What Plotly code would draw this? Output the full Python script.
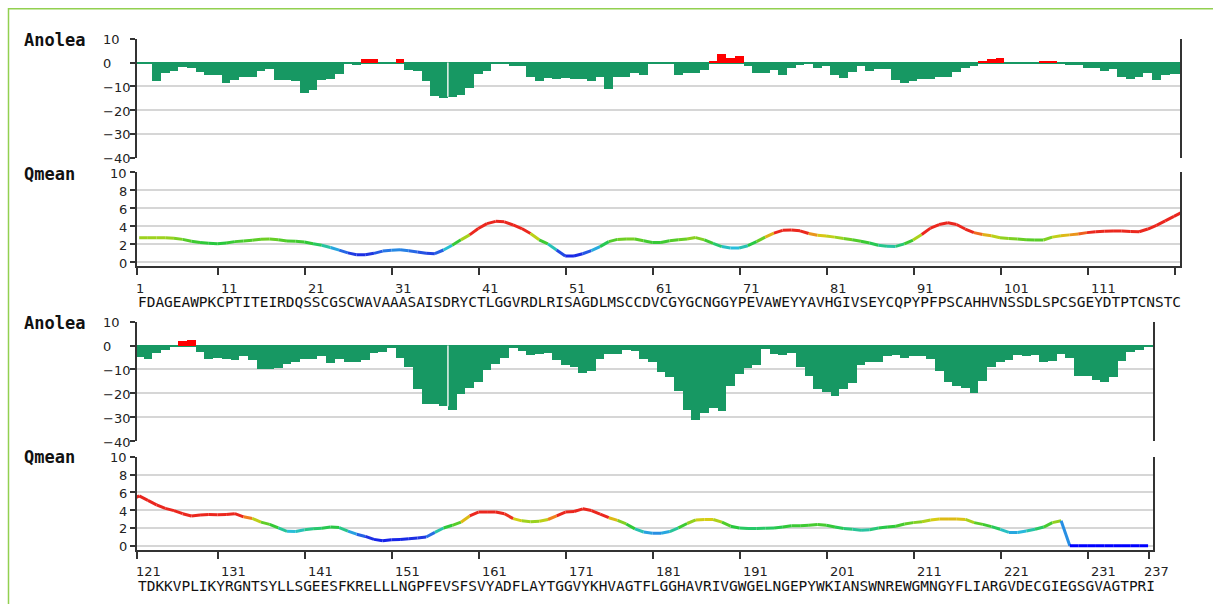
import plotly.graph_objects as go

W, H = 1213, 604

# ---------------------------------------------------------------- data
SEQUENCE = (
    "FDAGEAWPKCPTITEIRDQSSCGSCWAVAAASAISDRYCTLGGVRDLRISAGDLMSCCDVCGYGCNGGYPEVAWEYYAVHGIVSEYCQPYPFPSCAHHVNSSDLSPCSGEYDTPTCNSTC"
    "TDKKVPLIKYRGNTSYLLSGEESFKRELLLNGPFEVSFSVYADFLAYTGGVYKHVAGTFLGGHAVRIVGWGELNGEPYWKIANSWNREWGMNGYFLIARGVDECGIEGSGVAGTPRI"
)
RESIDUES = list(range(1, len(SEQUENCE) + 1))

ANOLEA = [
    0.0, 0.0, -7.7, -4.1, -3.5, -1.8, -2.2, -3.9, -5.3, -5.3,
    -8.4, -7.1, -6.0, -6.0, -3.5, -2.4, -7.3, -7.3, -7.8, -12.7,
    -11.6, -7.3, -6.6, -4.5, -0.4, -1.0, 1.4, 1.4, 0.0, 0.0,
    1.4, -2.9, -3.6, -7.8, -14.0, -14.7, -14.4, -13.4, -10.5, -4.5,
    -3.4, -0.2, -0.7, -1.5, -1.5, -5.9, -7.7, -6.3, -6.6, -6.4,
    -6.9, -6.9, -7.7, -6.0, -10.9, -6.0, -6.0, -4.2, -5.3, -0.1,
    -0.7, -0.7, -5.3, -4.3, -4.3, -2.9, 0.8, 3.5, 2.1, 2.8,
    -1.5, -4.1, -4.1, -2.9, -5.3, -2.1, -0.8, -0.4, -2.1, -1.5,
    -5.3, -6.4, -3.9, -1.5, -3.4, -2.8, -2.8, -7.4, -8.3, -7.7,
    -6.6, -6.6, -5.9, -5.9, -3.9, -2.2, -1.3, 0.8, 1.5, 2.1,
    0.0, 0.0, 0.0, 0.0, 0.8, 0.8, 0.0, -0.8, -0.8, -2.1,
    -2.1, -3.4, -2.8, -5.9, -6.6, -5.9, -4.1, -7.1, -5.3, -4.5,
    -4.6, -5.3, -2.9, -1.8, -0.4, 1.9, 2.5, -2.4, -5.3, -5.0,
    -5.3, -6.0, -4.2, -6.0, -9.9, -9.9, -9.4, -7.8, -6.7, -5.6,
    -5.6, -4.2, -7.1, -5.6, -6.7, -6.7, -6.0, -2.9, -2.4, -1.1,
    -5.0, -9.0, -18.1, -24.3, -24.3, -25.4, -26.7, -20.1, -17.6, -15.3,
    -10.1, -7.4, -4.9, -1.0, -2.1, -3.8, -3.2, -2.8, -6.0, -7.9,
    -8.8, -11.4, -10.7, -5.6, -3.2, -3.2, -1.7, -2.1, -5.3, -6.9,
    -10.8, -13.2, -18.8, -26.8, -31.0, -28.1, -26.1, -27.1, -16.9, -11.8,
    -9.3, -7.9, -1.4, -3.2, -3.8, -2.8, -8.9, -12.5, -18.1, -19.2,
    -21.1, -18.1, -15.6, -7.9, -6.9, -6.9, -4.2, -3.9, -5.1, -4.4,
    -4.4, -5.6, -10.4, -15.3, -16.7, -17.8, -19.9, -14.9, -9.0, -6.9,
    -5.8, -3.9, -4.2, -3.9, -6.9, -6.3, -3.2, -5.1, -12.5, -12.5,
    -14.3, -15.3, -12.9, -6.3, -2.6, -1.8, -0.3,
]

QMEAN = [
    2.74, 2.74, 2.74, 2.74, 2.68, 2.55, 2.35, 2.2, 2.12, 2.07,
    2.15, 2.3, 2.38, 2.45, 2.57, 2.58, 2.5, 2.37, 2.33, 2.25,
    2.07, 1.9, 1.65, 1.35, 1.05, 0.85, 0.85, 1.0, 1.25, 1.35,
    1.4, 1.28, 1.15, 1.02, 0.96, 1.37, 1.9, 2.5, 3.05, 3.75,
    4.3, 4.55, 4.5, 4.15, 3.75, 3.2, 2.5, 2.05, 1.37, 0.7,
    0.7, 0.95, 1.3, 1.75, 2.3, 2.55, 2.6, 2.6, 2.4, 2.2,
    2.2, 2.4, 2.5, 2.6, 2.75, 2.5, 2.1, 1.75, 1.6, 1.6,
    1.85, 2.3, 2.8, 3.25, 3.55, 3.6, 3.5, 3.2, 3.0, 2.93,
    2.8, 2.65, 2.5, 2.35, 2.15, 1.9, 1.78, 1.77, 2.05, 2.48,
    3.1, 3.8, 4.2, 4.4, 4.2, 3.7, 3.3, 3.1, 2.95, 2.74,
    2.65, 2.6, 2.5, 2.48, 2.48, 2.8, 2.95, 3.05, 3.15, 3.3,
    3.4, 3.45, 3.48, 3.48, 3.42, 3.4, 3.7, 4.1, 4.6, 5.1,
    5.6, 5.1, 4.6, 4.2, 3.95, 3.6, 3.35, 3.45, 3.5, 3.48,
    3.5, 3.6, 3.25, 3.07, 2.65, 2.4, 2.0, 1.62, 1.6, 1.8,
    1.9, 1.97, 2.1, 2.05, 1.65, 1.3, 1.05, 0.72, 0.56, 0.68,
    0.7, 0.8, 0.88, 0.98, 1.5, 2.0, 2.3, 2.65, 3.35, 3.78,
    3.8, 3.8, 3.6, 3.05, 2.8, 2.7, 2.75, 2.95, 3.35, 3.78,
    3.85, 4.15, 3.95, 3.55, 3.15, 2.85, 2.45, 1.9, 1.55, 1.4,
    1.4, 1.6, 2.0, 2.5, 2.9, 2.95, 2.95, 2.65, 2.2, 2.0,
    1.95, 1.95, 1.97, 2.0, 2.1, 2.25, 2.25, 2.3, 2.4, 2.3,
    2.1, 1.95, 1.85, 1.75, 1.8, 2.0, 2.1, 2.2, 2.45, 2.6,
    2.7, 2.9, 3.0, 3.0, 3.0, 2.96, 2.6, 2.4, 2.15, 1.85,
    1.5, 1.5, 1.65, 1.85, 2.1, 2.6, 2.8, 0.0, 0.0, 0.0,
    0.0, 0.0, 0.0, 0.0, 0.0, 0.0, 0.0,
]

ROW_TICKS = [
    [1, 11, 21, 31, 41, 51, 61, 71, 81, 91, 101, 111],
    [121, 131, 141, 151, 161, 171, 181, 191, 201, 211, 221, 231, 237],
]
ANOLEA_TICKS = [10, 0, -10, -20, -30, -40]
QMEAN_TICKS = [10, 8, 6, 4, 2, 0]

# residue boundaries where the bar strip shows a thin break
BAR_BREAKS = [36, 156]

# ---------------------------------------------------------------- style
GREEN = "#179863"
RED = "#ff0000"
GRID = "#d6d6d6"
AXIS = "#333333"
NUM_FONT = dict(family="DejaVu Sans", size=13, color="#222222")
SEQ_FONT = dict(family="DejaVu Sans Mono", size=14.44, color="#111111")
TITLE_FONT = dict(family="DejaVu Sans Mono", size=17, color="#111111")
TICK_SHIFT = -0.9

# Qmean colour ramp: value -> rgb
QMEAN_RAMP = [
    (0.0, (0, 0, 255)), (0.9, (30, 50, 225)), (1.3, (40, 120, 230)),
    (1.6, (40, 190, 220)), (1.9, (40, 200, 120)), (2.1, (40, 200, 60)),
    (2.5, (90, 205, 40)), (2.75, (160, 210, 30)), (2.95, (215, 205, 20)),
    (3.15, (240, 130, 30)), (3.35, (235, 40, 30)), (10.0, (230, 30, 30)),
]


def ramp_color(v):
    if v <= QMEAN_RAMP[0][0]:
        r, g, b = QMEAN_RAMP[0][1]
        return f"rgb({r},{g},{b})"
    for (v0, c0), (v1, c1) in zip(QMEAN_RAMP[:-1], QMEAN_RAMP[1:]):
        if v <= v1:
            t = (v - v0) / (v1 - v0)
            r, g, b = (round(a + (bb - a) * t) for a, bb in zip(c0, c1))
            return f"rgb({r},{g},{b})"
    r, g, b = QMEAN_RAMP[-1][1]
    return f"rgb({r},{g},{b})"


def py(p):
    return 1 - p / H


# ---------------------------------------------------------------- layout per row
ROWS = [
    dict(lo=1, hi=120, xr=[0.75, 120.7], right=1180.0,
         a_top=38.7, a_bot=157.7, q_top=172.3, q_bot=266.3,
         lab_y=288.3, seq_y=302.3, a_title=39.5, q_title=173.5),
    dict(lo=121, hi=237, xr=[120.75, 237.6], right=1153.3,
         a_top=321.7, a_bot=441.0, q_top=456.7, q_bot=549.7,
         lab_y=571.0, seq_y=586.0, a_title=322.5, q_title=457.0),
]

fig = go.Figure()
layout = dict(
    width=W, height=H, margin=dict(l=0, r=0, t=0, b=0),
    paper_bgcolor="white", plot_bgcolor="white",
    showlegend=False, bargap=0, hovermode=False,
)
annotations = []
shapes = []
LEFT = 137.0

for i, row in enumerate(ROWS):
    ax_a = 2 * i + 1
    ax_q = 2 * i + 2
    xa_name, ya_name = f"xaxis{ax_a}", f"yaxis{ax_a}"
    xq_name, yq_name = f"xaxis{ax_q}", f"yaxis{ax_q}"
    xa, ya = f"x{ax_a}", f"y{ax_a}"
    xq, yq = f"x{ax_q}", f"y{ax_q}"
    dom_x = [LEFT / W, row["right"] / W]

    # ---- Anolea bars
    fig.add_trace(go.Bar(
        x=RESIDUES, y=ANOLEA, width=1.0,
        marker=dict(color=[RED if v > 0 else GREEN for v in ANOLEA], line=dict(width=0)),
        xaxis=xa, yaxis=ya,
    ))
    for b in BAR_BREAKS:
        if row["lo"] <= b < row["hi"]:
            shapes.append(dict(
                type="line", xref=xa, yref=ya, x0=b + 0.5, x1=b + 0.5,
                y0=0, y1=max(ANOLEA[b - 1], ANOLEA[b]),
                line=dict(color="#eef5f0", width=1.5), layer="above",
            ))
    layout[xa_name] = dict(domain=dom_x, range=row["xr"], visible=False, anchor=ya)
    layout[ya_name] = dict(
        domain=[py(row["a_bot"]), py(row["a_top"])], range=[-40, 10], anchor=xa,
        tickvals=ANOLEA_TICKS, showticklabels=False, ticks="outside", ticklen=5,
        tickwidth=2, tickcolor=AXIS, showgrid=True, gridcolor=GRID, gridwidth=2,
        zeroline=True, zerolinecolor=GREEN, zerolinewidth=1.5,
        showline=True, linecolor=AXIS, linewidth=2, mirror=True,
    )
    for v in ANOLEA_TICKS:
        annotations.append(dict(
            text=str(v).replace("-", "\u2212"), xref="paper", x=100.5 / W, xanchor="left",
            yref=ya, y=v, yanchor="middle", yshift=-1, showarrow=False, font=NUM_FONT,
        ))

    # ---- Qmean line, one segment per residue pair coloured by its level
    first = max(row["lo"] - 1, 1)
    last = min(row["hi"] + 2, len(RESIDUES))
    for n in range(first, last):
        q0, q1 = QMEAN[n - 1], QMEAN[n]
        fig.add_trace(go.Scatter(
            x=[n, n + 1], y=[q0, q1], mode="lines",
            line=dict(color=ramp_color((q0 + q1) / 2), width=3),
            xaxis=xq, yaxis=yq, hoverinfo="skip",
        ))

    ticks = ROW_TICKS[i]
    tickvals = [row["xr"][0]] + [t + TICK_SHIFT for t in ticks[1:]]
    if i == 0:
        tickvals.append(row["hi"] + 1 + TICK_SHIFT)
    else:
        tickvals[-1] = row["hi"] + 1 + TICK_SHIFT
    layout[xq_name] = dict(
        domain=dom_x, range=row["xr"], anchor=yq,
        tickvals=tickvals, showticklabels=False, ticks="outside", ticklen=7,
        tickwidth=2, tickcolor=AXIS, showgrid=False, zeroline=False,
        showline=True, linecolor=AXIS, linewidth=2,
    )
    layout[yq_name] = dict(
        domain=[py(row["q_bot"]), py(row["q_top"])], range=[-0.44, 10], anchor=xq,
        tickvals=QMEAN_TICKS, showticklabels=False, ticks="outside", ticklen=5,
        tickwidth=2, tickcolor=AXIS, showgrid=True, gridcolor=GRID, gridwidth=2,
        zeroline=False, showline=True, linecolor=AXIS, linewidth=2, mirror=True,
    )
    for v in QMEAN_TICKS:
        annotations.append(dict(
            text=str(v), xref="paper", x=129.2 / W, xanchor="right",
            yref=yq, y=v, yanchor="middle", yshift=-1, showarrow=False, font=NUM_FONT,
        ))

    # residue numbers under the axis
    for k, t in enumerate(ticks):
        if k == 0:
            xv, shift = row["xr"][0], -3
        elif t == row["hi"]:
            xv, shift = row["hi"] + 1 + TICK_SHIFT, -7
        else:
            xv, shift = t + TICK_SHIFT, 1
        annotations.append(dict(
            text=str(t), xref=xq, x=xv, xanchor="left", xshift=shift,
            yref="paper", y=py(row["lab_y"]), yanchor="middle",
            showarrow=False, font=NUM_FONT,
        ))

    # one-letter sequence for this row
    annotations.append(dict(
        text=SEQUENCE[row["lo"] - 1:row["hi"]], xref="paper", x=(LEFT - 1) / W,
        xanchor="left", yref="paper", y=py(row["seq_y"]), yanchor="middle",
        showarrow=False, font=SEQ_FONT,
    ))

    # panel titles
    for title, yp in (("Anolea", row["a_title"]), ("Qmean", row["q_title"])):
        annotations.append(dict(
            text=f"<b>{title}</b>", xref="paper", x=22 / W, xanchor="left",
            yref="paper", y=py(yp), yanchor="middle", showarrow=False, font=TITLE_FONT,
        ))

shapes.append(dict(
    type="rect", xref="paper", yref="paper",
    x0=8.5 / W, x1=1.05, y0=-0.05, y1=py(8.8),
    line=dict(color="#92d050", width=1.5), fillcolor="rgba(0,0,0,0)", layer="below",
))
layout["annotations"] = annotations
layout["shapes"] = shapes
fig.update_layout(**layout)
fig.write_html("out.html")
